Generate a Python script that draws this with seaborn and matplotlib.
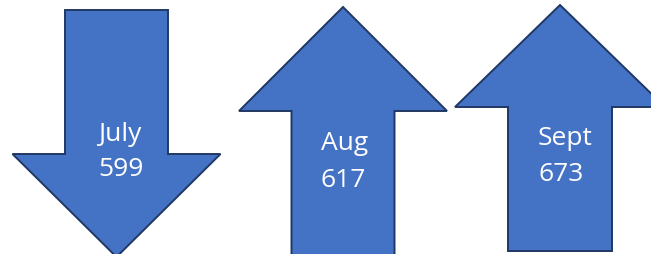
import matplotlib
matplotlib.use("Agg")
import matplotlib.pyplot as plt
import seaborn as sns

# Datos
meses = ["July", "Aug", "Sept"]
valores = [599, 617, 673]
direccion = ["down", "up", "up"]

# Estilo
sns.set_style("white")
plt.rcParams['font.family'] = ['Open Sans', 'DejaVu Sans']
relleno = "#4472C4"
borde = "#203864"

# Geometria de cada flecha (pixeles): centro x, extremo cola, base cabeza, punta
centros = [116.5, 343, 560]
cola = [11, 262, 252]
base_cabeza = [155, 112, 108]
punta = [258, 8, 6]
medio_ancho = [51.5, 51.5, 52]
medio_cabeza = [104, 104, 105]
texto_dx = [-18.5, -22, -22]
texto_y1 = [141, 150, 145]
texto_y2 = [176, 187, 181]

fig = plt.figure(figsize=(6.51, 2.55), dpi=100)
ax = fig.add_axes([0, 0, 1, 1])
ax.set_xlim(0, 651)
ax.set_ylim(255, 0)
ax.axis("off")

for i, mes in enumerate(meses):
    cx = centros[i]
    w = medio_ancho[i]
    h = medio_cabeza[i]
    xs = [cx - w, cx + w, cx + w, cx + h, cx, cx - h, cx - w]
    ys = [cola[i], cola[i], base_cabeza[i], base_cabeza[i], punta[i],
          base_cabeza[i], base_cabeza[i]]
    ax.fill(xs, ys, facecolor=relleno, edgecolor=borde, linewidth=1.4,
            joinstyle="miter", clip_on=True)
    ax.text(cx + texto_dx[i], texto_y1[i], mes, color="white", fontsize=19,
            ha="left", va="baseline")
    ax.text(cx + texto_dx[i], texto_y2[i], str(valores[i]), color="white",
            fontsize=19, ha="left", va="baseline")

fig.savefig("out.png", dpi=100)
